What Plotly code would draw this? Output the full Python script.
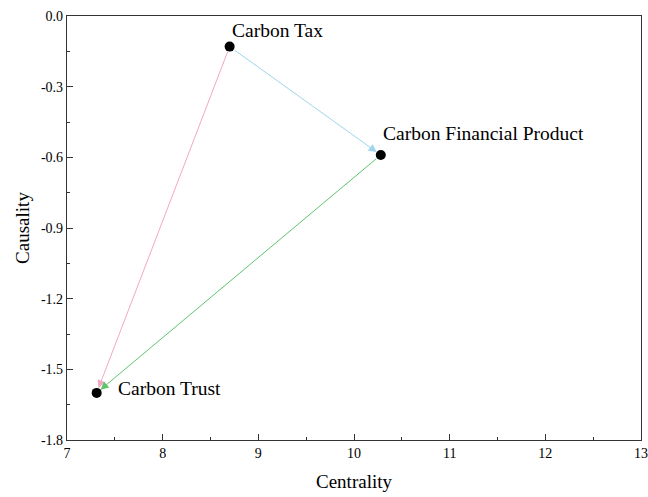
import plotly.graph_objects as go

# Node coordinates (centrality, causality)
names = ["Carbon Tax", "Carbon Financial Product", "Carbon Trust"]
centrality = [8.70, 10.28, 7.31]
causality = [-0.13, -0.59, -1.60]

# Directed influence edges: (source index, target index, colour)
edge_src = [0, 0, 1]
edge_dst = [1, 2, 2]
edge_color = ["#9fd3ee", "#f2a7c3", "#5fc46c"]

# Label offsets in pixels relative to each node
label_dx = [0, 0, 19]
label_dy = [16, 21, 4]

x_ticks = [7, 8, 9, 10, 11, 12, 13]
y_ticks = [0.0, -0.3, -0.6, -0.9, -1.2, -1.5, -1.8]
y_ticklabels = ["0.0" if v == 0 else f"{v:.1f}" for v in y_ticks]

font_family = "Liberation Serif, Times New Roman, serif"

fig = go.Figure()

fig.add_trace(go.Scatter(
    x=centrality, y=causality, mode="markers",
    marker=dict(size=10, color="black"),
    hoverinfo="text", text=names, showlegend=False,
))

annotations = []
for s, d, c in zip(edge_src, edge_dst, edge_color):
    annotations.append(dict(
        x=centrality[d], y=causality[d], ax=centrality[s], ay=causality[s],
        xref="x", yref="y", axref="x", ayref="y",
        showarrow=True, arrowhead=2, arrowsize=1.6, arrowwidth=1,
        arrowcolor=c, standoff=5, startstandoff=4, text="",
    ))

for n, xv, yv, dx, dy in zip(names, centrality, causality, label_dx, label_dy):
    annotations.append(dict(
        x=xv, y=yv, xref="x", yref="y", text=n, showarrow=False,
        xanchor="left", yanchor="middle", xshift=dx, yshift=dy,
        font=dict(family=font_family, size=19.5, color="black"),
    ))

fig.update_layout(
    width=648, height=497,
    margin=dict(l=67, r=7, t=16, b=57, autoexpand=False),
    plot_bgcolor="white", paper_bgcolor="white",
    font=dict(family=font_family, size=14, color="black"),
    annotations=annotations,
    xaxis=dict(
        range=[7, 13], tickvals=x_ticks, ticktext=[str(v) for v in x_ticks],
        ticklabeloverflow="allow", automargin=False,
        ticks="inside", ticklen=6, tickwidth=1, tickcolor="#333",
        minor=dict(dtick=0.5, tick0=7, ticks="inside", ticklen=3, tickcolor="#333"),
        showline=True, linecolor="#333", linewidth=1.3, mirror=True,
        showgrid=False, zeroline=False,
        title=dict(text="Centrality", font=dict(size=19), standoff=14),
    ),
    yaxis=dict(
        range=[-1.8, 0], tickvals=y_ticks, ticktext=y_ticklabels,
        ticklabeloverflow="allow", automargin=False,
        ticks="inside", ticklen=6, tickwidth=1, tickcolor="#333",
        minor=dict(dtick=0.15, tick0=0, ticks="inside", ticklen=3, tickcolor="#333"),
        showline=True, linecolor="#333", linewidth=1.3, mirror=True,
        showgrid=False, zeroline=False,
        title=dict(text="Causality", font=dict(size=19), standoff=6),
    ),
)

fig.write_html("out.html")
